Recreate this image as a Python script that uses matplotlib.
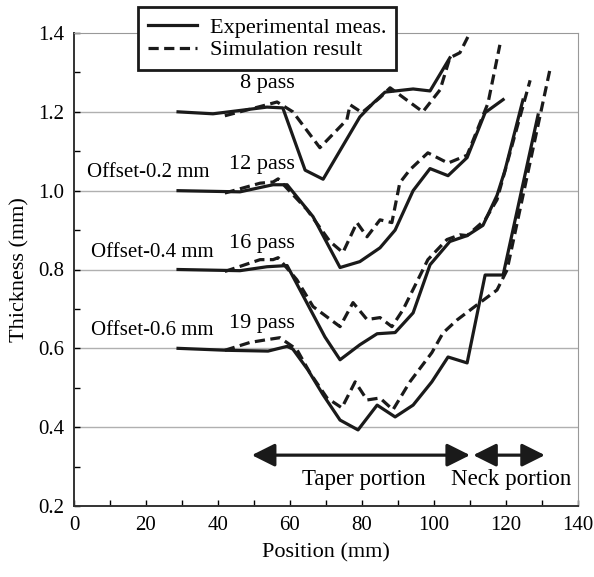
import matplotlib
matplotlib.use("Agg")
import matplotlib.pyplot as plt
from matplotlib.ticker import MultipleLocator, FormatStrFormatter

plt.rcParams['font.family'] = ['Liberation Serif', 'DejaVu Serif']
plt.rcParams['font.size'] = 16

# 8 pass (no offset)
exp8_x = [28.9, 38.6, 53.6, 58.0, 64.2, 69.2, 79.4, 83.1, 86.4, 94.2, 98.9, 104.4]
exp8_y = [1.200, 1.195, 1.212, 1.210, 1.052, 1.029, 1.187, 1.222, 1.250, 1.258, 1.253, 1.337]
sim8_x = [41.9, 53.6, 56.4, 60.8, 68.3, 75.8, 76.7, 80.0, 85.0, 87.8, 96.9, 101.7, 104.4, 107.2, 109.4]
sim8_y = [1.190, 1.218, 1.225, 1.200, 1.109, 1.180, 1.218, 1.198, 1.236, 1.261, 1.200, 1.256, 1.337, 1.350, 1.390]

# 12 pass (offset -0.2 mm)
exp12_x = [28.9, 46.1, 55.3, 59.2, 66.4, 73.9, 79.4, 85.0, 89.2, 94.2, 98.9, 103.9, 109.2, 114.2, 119.2]
exp12_y = [1.000, 0.997, 1.015, 1.015, 0.934, 0.805, 0.820, 0.855, 0.900, 1.000, 1.056, 1.038, 1.084, 1.198, 1.231]
sim12_x = [41.9, 51.7, 55.3, 56.7, 64.7, 71.1, 74.7, 78.6, 81.4, 85.0, 88.3, 90.5, 93.3, 98.3, 103.9, 109.2, 115.0, 118.3]
sim12_y = [0.994, 1.019, 1.022, 1.030, 0.952, 0.871, 0.843, 0.919, 0.883, 0.926, 0.919, 1.020, 1.053, 1.096, 1.070, 1.090, 1.222, 1.370]

# 16 pass (offset -0.4 mm)
exp16_x = [28.9, 46.1, 53.6, 59.2, 69.7, 73.9, 79.4, 84.2, 89.2, 94.2, 98.9, 104.4, 109.2, 113.6, 117.5, 119.7, 124.7]
exp16_y = [0.800, 0.797, 0.807, 0.810, 0.629, 0.571, 0.609, 0.637, 0.640, 0.690, 0.812, 0.871, 0.886, 0.912, 0.988, 1.051, 1.230]
sim16_x = [41.9, 51.7, 55.3, 56.7, 61.9, 66.4, 73.9, 77.5, 81.4, 85.0, 88.3, 91.4, 98.3, 103.6, 107.2, 109.2, 114.2, 117.5, 126.7]
sim16_y = [0.795, 0.825, 0.825, 0.830, 0.774, 0.706, 0.655, 0.716, 0.673, 0.678, 0.655, 0.698, 0.825, 0.876, 0.888, 0.886, 0.926, 0.977, 1.280]

# 19 pass (offset -0.6 mm)
exp19_x = [28.9, 42.5, 53.9, 59.2, 60.8, 65.0, 69.2, 73.9, 78.9, 84.2, 89.2, 94.2, 99.4, 103.9, 109.2, 114.2, 119.2, 128.9]
exp19_y = [0.600, 0.595, 0.593, 0.605, 0.598, 0.545, 0.482, 0.418, 0.393, 0.456, 0.426, 0.456, 0.515, 0.578, 0.563, 0.786, 0.786, 1.192]
sim19_x = [41.9, 48.9, 53.6, 57.2, 61.9, 65.6, 70.3, 74.4, 78.1, 81.4, 85.0, 88.6, 93.3, 99.4, 102.5, 106.4, 111.9, 117.5, 120.3, 132.2]
sim19_y = [0.595, 0.615, 0.622, 0.627, 0.597, 0.537, 0.474, 0.449, 0.515, 0.469, 0.474, 0.444, 0.515, 0.589, 0.639, 0.672, 0.710, 0.748, 0.799, 1.307]

exp_series = [(exp8_x, exp8_y), (exp12_x, exp12_y), (exp16_x, exp16_y), (exp19_x, exp19_y)]
sim_series = [(sim8_x, sim8_y), (sim12_x, sim12_y), (sim16_x, sim16_y), (sim19_x, sim19_y)]

pass_labels = ["8 pass", "12 pass", "16 pass", "19 pass"]
pass_label_pos = [(53.6, 1.273), (52.2, 1.067), (52.2, 0.867), (52.2, 0.664)]
offset_labels = ["Offset-0.2 mm", "Offset-0.4 mm", "Offset-0.6 mm"]
offset_label_pos = [(20.6, 1.047), (21.7, 0.844), (21.7, 0.646)]

fig = plt.figure(figsize=(5.94, 5.77), dpi=100)
ax = fig.add_axes([74 / 594, 1 - 506 / 577, 504 / 594, 473 / 577])

for yv in [0.4, 0.6, 0.8, 1.0, 1.2]:
    ax.axhline(yv, color='#b0b0b0', lw=1.0, zorder=0)

ink = '#1a1a1a'
dash = (0, (3.2, 1.7))
for i, (x, y) in enumerate(exp_series):
    ax.plot(x, y, color=ink, lw=2.3, label='Experimental meas.' if i == 0 else None)
for i, (x, y) in enumerate(sim_series):
    ax.plot(x, y, color=ink, lw=2.3, linestyle=dash,
            label='Simulation result' if i == 0 else None)

for txt, (px, py) in zip(pass_labels, pass_label_pos):
    ax.text(px, py, txt, ha='center', va='center', fontsize=16)
for txt, (px, py) in zip(offset_labels, offset_label_pos):
    ax.text(px, py, txt, ha='center', va='center', fontsize=15)

# taper / neck arrows
arrow_y = 0.329
astyle = '<|-|>,head_length=1.0,head_width=0.5'
ax.annotate('', xy=(49.4, arrow_y), xytext=(110.0, arrow_y),
            arrowprops=dict(arrowstyle=astyle, color=ink, lw=2.3,
                            shrinkA=0, shrinkB=0, mutation_scale=14))
ax.annotate('', xy=(110.9, arrow_y), xytext=(130.8, arrow_y),
            arrowprops=dict(arrowstyle=astyle, color=ink, lw=2.3,
                            shrinkA=0, shrinkB=0, mutation_scale=14))
ax.text(80.5, 0.268, 'Taper portion', ha='center', va='center', fontsize=16.5)
ax.text(121.3, 0.268, 'Neck portion', ha='center', va='center', fontsize=16.5)

ax.set_xlim(0, 140)
ax.set_ylim(0.2, 1.4)
ax.xaxis.set_major_locator(MultipleLocator(20))
ax.xaxis.set_minor_locator(MultipleLocator(10))
ax.yaxis.set_major_locator(MultipleLocator(0.2))
ax.yaxis.set_minor_locator(MultipleLocator(0.1))
ax.yaxis.set_major_formatter(FormatStrFormatter('%.1f'))
ax.tick_params(which='both', direction='in', top=False, right=False,
               length=4, width=1, labelsize=15)
ax.tick_params(which='major', pad=7)

for side in ['left', 'bottom']:
    ax.spines[side].set_color('#333333')
    ax.spines[side].set_linewidth(1.4)
for side in ['top', 'right']:
    ax.spines[side].set_color('#999999')

ax.set_xlabel('Position (mm)', fontsize=16, labelpad=6)
ax.set_ylabel('Thickness (mm)', fontsize=16, labelpad=6)

leg = ax.legend(loc='upper right', bbox_to_anchor=(396 / 594, 1 - 7 / 577),
                bbox_transform=fig.transFigure, frameon=True, fancybox=False,
                framealpha=1, edgecolor=ink, handlelength=2.2,
                borderpad=0.45, labelspacing=0.1, handletextpad=0.55,
                borderaxespad=0, fontsize=16)
leg.get_frame().set_linewidth(2.0)
leg.set_zorder(5)

fig.savefig('out.png', dpi=100, facecolor='white')
